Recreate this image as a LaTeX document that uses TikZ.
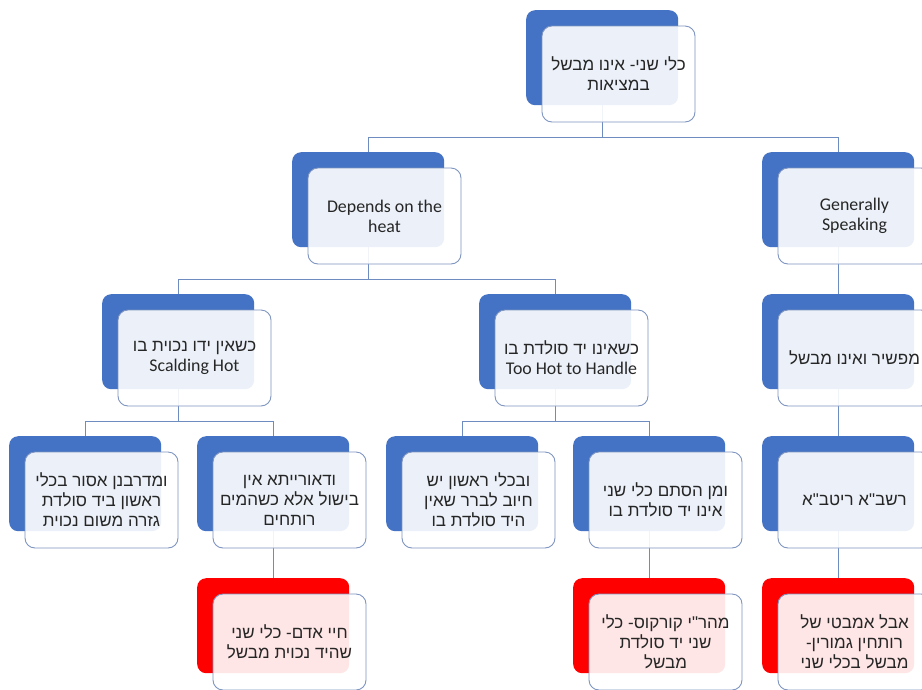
\documentclass[tikz,border=0pt]{standalone}
\usepackage{fontspec}
\setmainfont{Carlito}[Scale=1.05]
\newfontfamily\heb[Script=Hebrew]{Liberation Sans}
\TeXXeTstate=1
\usetikzlibrary{calc}
\pgfdeclarelayer{background}
\pgfsetlayers{background,main}
\definecolor{bluebox}{HTML}{4472C4}
\definecolor{redbox}{HTML}{FF0000}
\definecolor{framec}{HTML}{7F95C0}
\definecolor{linkc}{HTML}{6F8CC0}
\definecolor{ink}{HTML}{262626}
\newcommand{\hl}[1]{{\heb\beginR #1\endR}}
\begin{document}
\begin{tikzpicture}[x=1pt,y=-1pt,
  back/.style={rounded corners=9pt, minimum width=152pt, minimum height=95pt, inner sep=0pt, fill=bluebox, anchor=north west},
  backred/.style={back, fill=redbox},
  front/.style={rounded corners=10pt, minimum width=153pt, minimum height=96pt, inner sep=0pt, draw=framec, line width=0.9pt, fill=white, fill opacity=0.9, text opacity=1, anchor=center, align=center, font=\fontsize{17}{20}\selectfont, text=ink},
  link/.style={draw=linkc, line width=1pt},
  hier/.style={to path={|- ($(\tikztotarget)+(0pt,15pt)$) -| (\tikztotarget)}}
]
\useasboundingbox (0,0) rectangle (922,689);
\clip (0,0) rectangle (922,689);

% level 1
\node[back] (b0) at (526,10) {};
\node[front] (f0) at ($(b0.north west)+(92.5,64)$) {\hl{כלי שני- אינו מבשל}\\\hl{במציאות}};
% level 2
\node[back] (b1) at (292,152) {};
\node[front] (f1) at ($(b1.north west)+(92.5,64)$) {Depends on the\\heat};
\node[back] (b2) at (762,152) {};
\node[front] (f2) at ($(b2.north west)+(92.5,64)$) {Generally\\Speaking};
% level 3
\node[back] (b3) at (102,294) {};
\node[front] (f3) at ($(b3.north west)+(92.5,64)$) {\hl{כשאין ידו נכוית בו}\\Scalding Hot};
\node[back] (b4) at (479,294) {};
\node[front] (f4) at ($(b4.north west)+(92.5,64)$) {\hl{כשאינו יד סולדת בו}\\Too Hot to Handle};
\node[back] (b5) at (762,294) {};
\node[front] (f5) at ($(b5.north west)+(92.5,64)$) {\hl{מפשיר ואינו מבשל}};
% level 4
\node[back] (b6) at (9,436) {};
\node[front] (f6) at ($(b6.north west)+(92.5,64)$) {\hl{ומדרבנן אסור בכלי}\\\hl{ראשון ביד סולדת}\\\hl{גזרה משום נכוית}};
\node[back] (b7) at (197,436) {};
\node[front] (f7) at ($(b7.north west)+(92.5,64)$) {\hl{ודאורייתא אין}\\\hl{בישול אלא כשהמים}\\\hl{רותחים}};
\node[back] (b8) at (386,436) {};
\node[front] (f8) at ($(b8.north west)+(92.5,64)$) {\hl{ובכלי ראשון יש}\\\hl{חיוב לברר שאין}\\\hl{היד סולדת בו}};
\node[back] (b9) at (573,436) {};
\node[front] (f9) at ($(b9.north west)+(92.5,64)$) {\hl{ומן הסתם כלי שני}\\\hl{אינו יד סולדת בו}};
\node[back] (b10) at (762,436) {};
\node[front] (f10) at ($(b10.north west)+(92.5,64)$) {\hl{רשב"א ריטב"א}};
% level 5
\node[backred] (r1) at (197,578) {};
\node[front] (g1) at ($(r1.north west)+(92.5,64)$) {\hl{חיי אדם- כלי שני}\\\hl{שהיד נכוית מבשל}};
\node[backred] (r2) at (573,578) {};
\node[front] (g2) at ($(r2.north west)+(92.5,64)$) {\hl{מהר"י קורקוס- כלי}\\\hl{שני יד סולדת}\\\hl{מבשל}};
\node[backred] (r3) at (762,578) {};
\node[front] (g3) at ($(r3.north west)+(92.5,64)$) {\hl{אבל אמבטי של}\\\hl{רותחין גמורין-}\\\hl{מבשל בכלי שני}};

\begin{pgfonlayer}{background}
  \fill[white] (0,0) rectangle (922,689);
  \draw[link] (b0.south) to[hier] (b1.north);
  \draw[link] (b0.south) to[hier] (b2.north);
  \draw[link] (b1.south) to[hier] (b3.north);
  \draw[link] (b1.south) to[hier] (b4.north);
  \draw[link] (b2.south) to[hier] (b5.north);
  \draw[link] (b3.south) to[hier] (b6.north);
  \draw[link] (b3.south) to[hier] (b7.north);
  \draw[link] (b4.south) to[hier] (b8.north);
  \draw[link] (b4.south) to[hier] (b9.north);
  \draw[link] (b5.south) to[hier] (b10.north);
  \draw[link] (b7.south) to[hier] (r1.north);
  \draw[link] (b9.south) to[hier] (r2.north);
  \draw[link] (b10.south) to[hier] (r3.north);
\end{pgfonlayer}
\end{tikzpicture}
\end{document}
